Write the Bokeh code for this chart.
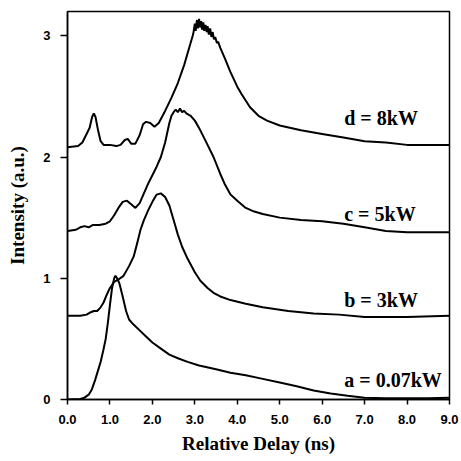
from bokeh.plotting import figure
from bokeh.models import Range1d, FixedTicker, NumeralTickFormatter, Label
from bokeh.embed import file_html
from bokeh.resources import INLINE

# Curve a = 0.07 kW
a_x = [0.0, 0.3, 0.4, 0.5, 0.57, 0.65, 0.72, 0.78, 0.84, 0.9, 0.95, 1.0, 1.05, 1.1, 1.13, 1.17,
       1.22, 1.3, 1.38, 1.45, 1.55, 1.7, 1.85, 2.0, 2.2, 2.4, 2.6, 2.83, 3.1, 3.5, 3.84, 4.2,
       4.6, 5.0, 5.4, 5.8, 6.2, 6.6, 7.0, 7.5, 8.0, 8.5, 9.0]
a_y = [0.0, 0.005, 0.015, 0.04, 0.08, 0.16, 0.24, 0.31, 0.40, 0.50, 0.63, 0.78, 0.92, 1.00, 1.02, 1.00,
       0.96, 0.85, 0.73, 0.66, 0.62, 0.57, 0.52, 0.47, 0.42, 0.37, 0.34, 0.31, 0.28, 0.25, 0.22, 0.20,
       0.17, 0.14, 0.11, 0.075, 0.05, 0.03, 0.015, 0.01, 0.01, 0.01, 0.015]

# Curve b = 3 kW
b_x = [0.0, 0.3, 0.45, 0.55, 0.62, 0.7, 0.78, 0.85, 0.92, 1.0, 1.1, 1.2, 1.32, 1.45, 1.56, 1.65,
       1.72, 1.8, 1.9, 2.0, 2.1, 2.2, 2.3, 2.4, 2.5, 2.6, 2.7, 2.83, 3.0, 3.13, 3.3, 3.44, 3.6,
       3.84, 4.2, 4.6, 5.2, 5.8, 6.4, 7.0, 8.0, 9.0]
b_y = [0.69, 0.69, 0.70, 0.72, 0.73, 0.73, 0.76, 0.80, 0.86, 0.92, 0.97, 0.99, 1.02, 1.10, 1.18, 1.30,
       1.40, 1.48, 1.56, 1.63, 1.69, 1.70, 1.67, 1.60, 1.48, 1.36, 1.26, 1.16, 1.05, 0.98, 0.92, 0.88, 0.85,
       0.82, 0.79, 0.76, 0.73, 0.71, 0.70, 0.68, 0.68, 0.69]

# Curve c = 5 kW
c_x = [0.0, 0.2, 0.3, 0.4, 0.5, 0.6, 0.75, 0.9, 1.0, 1.1, 1.2, 1.3, 1.4, 1.5, 1.6, 1.7, 1.8, 1.9,
       2.0, 2.1, 2.2, 2.3, 2.4, 2.45, 2.5, 2.55, 2.6, 2.65, 2.7, 2.75, 2.8, 2.9, 3.0, 3.1, 3.2, 3.3,
       3.44, 3.6, 3.7, 3.84, 4.0, 4.2, 4.4, 4.6, 5.0, 5.5, 6.0, 6.5, 7.0, 7.5, 8.0, 9.0]
c_y = [1.39, 1.40, 1.42, 1.43, 1.42, 1.44, 1.44, 1.45, 1.47, 1.52, 1.58, 1.63, 1.64, 1.61, 1.58, 1.62, 1.70, 1.78,
       1.85, 1.92, 2.00, 2.12, 2.28, 2.34, 2.37, 2.39, 2.37, 2.40, 2.37, 2.38, 2.36, 2.34, 2.30, 2.24, 2.17, 2.10,
       2.00, 1.86, 1.78, 1.69, 1.64, 1.58, 1.55, 1.53, 1.50, 1.48, 1.47, 1.45, 1.42, 1.39, 1.38, 1.38]

# Curve d = 8 kW
d_x = [0.0, 0.25, 0.35, 0.45, 0.52, 0.58, 0.62, 0.66, 0.72, 0.78, 0.85, 1.0, 1.15, 1.25, 1.35, 1.42,
       1.5, 1.6, 1.7, 1.78, 1.85, 1.95, 2.05, 2.15, 2.3, 2.45, 2.6, 2.75, 2.85, 2.95, 2.97, 3.0, 3.02,
       3.05, 3.07, 3.1, 3.12, 3.15, 3.17, 3.2, 3.22, 3.25, 3.28, 3.3, 3.33, 3.36, 3.39, 3.42, 3.45,
       3.48, 3.52, 3.55, 3.6, 3.7, 3.84, 4.0, 4.1, 4.3, 4.5, 4.7, 5.0, 5.5, 6.0, 6.5, 7.0, 7.5, 8.0,
       8.5, 9.0]
d_y = [2.08, 2.09, 2.12, 2.19, 2.24, 2.33, 2.36, 2.33, 2.22, 2.13, 2.10, 2.10, 2.09, 2.10, 2.14, 2.15,
       2.11, 2.11, 2.18, 2.27, 2.29, 2.28, 2.25, 2.28, 2.38, 2.49, 2.61, 2.76, 2.88, 3.00, 3.03, 3.10, 3.04,
       3.13, 3.06, 3.14, 3.07, 3.12, 3.05, 3.11, 3.04, 3.09, 3.03, 3.08, 3.01, 3.06, 2.99, 3.03, 2.97,
       2.99, 2.94, 2.95, 2.90, 2.82, 2.70, 2.58, 2.52, 2.41, 2.34, 2.30, 2.26, 2.22, 2.19, 2.16, 2.13, 2.12, 2.10,
       2.10, 2.10]

label_texts = ["a = 0.07kW", "b = 3kW", "c = 5kW", "d = 8kW"]
label_x = [6.52, 6.52, 6.52, 6.52]
label_y = [0.16, 0.82, 1.53, 2.32]

x_ticks = [0, 1, 2, 3, 4, 5, 6, 7, 8, 9]
y_ticks = [0, 1, 2, 3]

p = figure(width=461, height=461, output_backend="svg", toolbar_location=None,
           x_range=Range1d(0, 9), y_range=Range1d(0, 3.2),
           min_border_left=67, min_border_right=12, min_border_top=11, min_border_bottom=62)

p.background_fill_color = "white"
p.border_fill_color = "white"
p.outline_line_color = "black"
p.outline_line_width = 1.5
p.xgrid.visible = False
p.ygrid.visible = False

for xs, ys in [(a_x, a_y), (b_x, b_y), (c_x, c_y), (d_x, d_y)]:
    p.line(xs, ys, line_color="black", line_width=2)

for t, x, y in zip(label_texts, label_x, label_y):
    p.add_layout(Label(x=x, y=y, text=t, text_align="left", text_baseline="middle",
                       text_font="Liberation Serif", text_font_style="bold",
                       text_font_size="20px", text_color="black"))

p.xaxis.ticker = FixedTicker(ticks=x_ticks)
p.xaxis.formatter = NumeralTickFormatter(format="0.0")
p.yaxis.ticker = FixedTicker(ticks=y_ticks)

for ax in [p.xaxis[0], p.yaxis[0]]:
    ax.axis_line_color = "black"
    ax.axis_line_width = 1.5
    ax.major_tick_line_color = "black"
    ax.major_tick_line_width = 1.5
    ax.major_tick_in = 0
    ax.minor_tick_line_color = None
    ax.major_label_text_font = "Liberation Sans"
    ax.major_label_text_font_style = "bold"
    ax.major_label_text_font_size = "13px"
    ax.major_label_text_color = "black"
    ax.axis_label_text_font = "Liberation Serif"
    ax.axis_label_text_font_style = "bold"
    ax.axis_label_text_font_size = "19px"
    ax.axis_label_text_color = "black"

p.xaxis.major_tick_out = 5
p.yaxis.major_tick_out = 7
p.xaxis.major_label_standoff = 10
p.yaxis.major_label_standoff = 10
p.xaxis.axis_label_standoff = 6
p.yaxis.axis_label_standoff = 12
p.xaxis.axis_label = "Relative Delay (ns)"
p.yaxis.axis_label = "Intensity (a.u.)"

open("out.html", "w").write(file_html(p, INLINE))
